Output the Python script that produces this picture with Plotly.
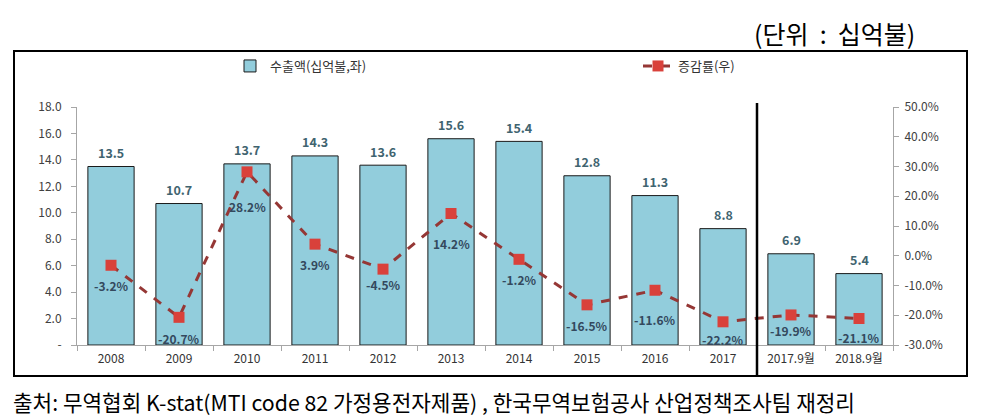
import plotly.graph_objects as go

categories = ["2008", "2009", "2010", "2011", "2012", "2013", "2014", "2015", "2016", "2017", "2017.9월", "2018.9월"]
export_values = [13.5, 10.7, 13.7, 14.3, 13.6, 15.6, 15.4, 12.8, 11.3, 8.8, 6.9, 5.4]
growth_rates = [-3.2, -20.7, 28.2, 3.9, -4.5, 14.2, -1.2, -16.5, -11.6, -22.2, -19.9, -21.1]
left_ticks = [0, 2, 4, 6, 8, 10, 12, 14, 16, 18]
left_ticktext = ["-"] + [f"{v:.1f}" for v in left_ticks[1:]]
right_ticks = [-30, -20, -10, 0, 10, 20, 30, 40, 50]
right_ticktext = [f"{v:.1f}%" for v in right_ticks]

# label placement (pixel offsets below each marker), styling only
rate_label_shift = [-20, -21, -35, -20, -15, -30, -20, -21, -29, -18, -16, -19]

FONT = "Noto Sans CJK KR, Noto Sans, sans-serif"

fig = go.Figure()
fig.add_trace(go.Bar(
    x=categories, y=export_values, name="수출액(십억불,좌)",
    marker=dict(color="#92CDDC", line=dict(color="#1a1a1a", width=1)),
    yaxis="y", legend="legend",
))
fig.add_trace(go.Scatter(
    x=categories, y=growth_rates, name="증감률(우)", yaxis="y2",
    mode="lines+markers",
    line=dict(color="#953735", width=3, dash="dash"),
    marker=dict(symbol="square", size=11, color="#D9413B"),
    cliponaxis=False, legend="legend2",
))

W, H = 985, 417
L, R, T, B = 77, 92, 107, 72
pw, ph = W - L - R, H - T - B

def px(x):
    return (x - L) / pw

def py(y):
    return (H - B - y) / ph

shapes = [
    dict(type="rect", xref="paper", yref="paper", x0=px(14), x1=px(967), y0=py(376), y1=py(51),
         line=dict(color="black", width=2), fillcolor="rgba(0,0,0,0)", layer="below"),
    dict(type="line", xref="x", yref="paper", x0=9.5, x1=9.5, y0=py(376), y1=py(103),
         line=dict(color="black", width=2.5)),
]

annotations = [
    dict(text="(단위  :  십억불)", xref="paper", yref="paper", x=px(917), y=py(33),
         xanchor="right", yanchor="middle", showarrow=False,
         font=dict(size=25, color="black", family=FONT)),
    dict(text="출처: 무역협회 K-stat(MTI code 82 가정용전자제품) , 한국무역보험공사 산업정책조사팀 재정리",
         xref="paper", yref="paper", x=px(11), y=py(401), xanchor="left", yanchor="middle",
         showarrow=False, font=dict(size=21.3, color="black", family=FONT)),
]
for i, v in enumerate(export_values):
    annotations.append(dict(text=f"{v:.1f}", x=i, y=v, xref="x", yref="y", yshift=14,
                            showarrow=False, yanchor="middle",
                            font=dict(size=12.5, color="#3F6470", family=FONT, weight="bold")))
for i, (v, s) in enumerate(zip(growth_rates, rate_label_shift)):
    annotations.append(dict(text=f"{v:.1f}%", x=i, y=v, xref="x", yref="y2", yshift=s,
                            showarrow=False, yanchor="middle",
                            font=dict(size=12, color="#34495E", family=FONT, weight="bold")))

legend_common = dict(orientation="h", yanchor="middle", xanchor="left",
                     font=dict(size=13, color="#333333", family=FONT), bgcolor="rgba(0,0,0,0)")

fig.update_layout(
    width=W, height=H,
    margin=dict(l=L, r=R, t=T, b=B, pad=0),
    paper_bgcolor="white", plot_bgcolor="white",
    font=dict(family=FONT, size=12, color="#404040"),
    bargap=0.32,
    showlegend=True,
    legend=dict(x=px(230), y=py(66), **legend_common),
    legend2=dict(x=px(638), y=py(66), **legend_common),
    xaxis=dict(type="category", range=[-0.5, 11.5], autorange=False, showline=True,
               linecolor="#A6A6A6", linewidth=1,
               ticks="outside", tickson="boundaries", ticklen=5, tickcolor="#A6A6A6",
               ticklabelstandoff=3,
               showgrid=False, tickfont=dict(size=12, color="#333333")),
    yaxis=dict(range=[0, 18], tickvals=left_ticks, ticktext=left_ticktext, showgrid=False,
               showline=True, linecolor="#A6A6A6", ticks="outside", ticklen=5, tickcolor="#A6A6A6",
               ticklabelstandoff=7,
               tickfont=dict(size=12, color="#404040"), zeroline=False),
    yaxis2=dict(range=[-30, 50], tickvals=right_ticks, ticktext=right_ticktext, overlaying="y",
                side="right", showgrid=False, showline=True, linecolor="#A6A6A6", ticks="outside",
                ticklen=5, tickcolor="#A6A6A6", ticklabelstandoff=3,
                tickfont=dict(size=12, color="#404040"), zeroline=False),
    shapes=shapes, annotations=annotations,
)

fig.write_html("out.html", config={"displayModeBar": False},
               post_script="document.body.style.margin='0';document.body.style.padding='0';")
